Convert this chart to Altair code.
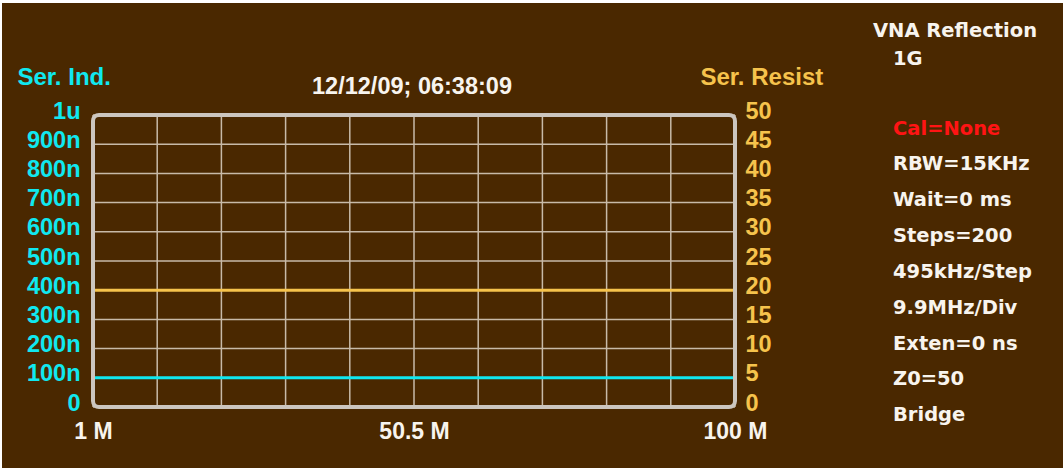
import altair as alt
import pandas as pd

# Sweep: series inductance (nH) and series resistance (ohm) vs frequency (MHz)
freq_mhz = [1.0, 100.0]
ser_ind_nh = [100.0, 100.0]
ser_resist = [20.0, 20.0]

# Division marks: 10 divisions of 9.9 MHz, 100 nH and 5 ohm
freq_div = [1.0, 10.9, 20.8, 30.7, 40.6, 50.5, 60.4, 70.3, 80.2, 90.1, 100.0]
freq_labelled = [1.0, 50.5, 100.0]
ind_div = [0, 100, 200, 300, 400, 500, 600, 700, 800, 900, 1000]
res_div = [0, 5, 10, 15, 20, 25, 30, 35, 40, 45, 50]

timestamp = "12/12/09; 06:38:09"
panel_head = ["VNA Reflection", "1G"]
panel_cal = "Cal=None"
panel_info = ["RBW=15KHz", "Wait=0 ms", "Steps=200", "495kHz/Step",
              "9.9MHz/Div", "Exten=0 ns", "Z0=50", "Bridge"]

BROWN = "#4a2800"
CYAN = "#10e8f0"
ORANGE = "#f6c34c"
WHITE = "#f8f4ee"
RED = "#ff1414"
GRID = "#c8baa8"
FRAME = "#ccc6bf"
FONT = "Liberation Sans"
PANEL_FONT = "DejaVu Sans"

W, H = 642, 292

sweep = pd.DataFrame({"freq": freq_mhz, "ind": ser_ind_nh, "res": ser_resist})
one = pd.DataFrame({"k": [0]})

x_scale = alt.Scale(domain=[1, 100], nice=False, zero=False)
x_axis = alt.Axis(
    values=freq_labelled, labelExpr="datum.value + ' M'", title=None,
    grid=False, ticks=False, domain=False, labelFlush=False, labelOverlap=False,
    labelColor=WHITE, labelFont=FONT, labelFontWeight="bold", labelFontSize=23,
    labelPadding=13, zindex=1,
)
x_enc = alt.X("freq:Q", scale=x_scale, axis=x_axis)

ind_scale = alt.Scale(domain=[0, 1000], nice=False)
res_scale = alt.Scale(domain=[0, 50], nice=False)

label_style = dict(grid=False, ticks=False, domain=False, labelFlush=False,
                   labelOverlap=False, labelFont=FONT, labelFontWeight="bold",
                   labelFontSize=23.5, labelBaseline="middle", labelOffset=-4,
                   titleAngle=0, titleAlign="left", titleBaseline="middle",
                   titleFont=FONT, titleFontWeight="bold", titleFontSize=24,
                   titleY=-38, zindex=1)

ind_axis = alt.Axis(
    values=ind_div, orient="left", title="Ser. Ind.",
    labelExpr="datum.value == 0 ? '0' : (datum.value == 1000 ? '1u' : datum.value + 'n')",
    labelColor=CYAN, titleColor=CYAN, labelPadding=13, titleX=-76, **label_style,
)
res_axis = alt.Axis(
    values=res_div, orient="right", title="Ser. Resist",
    labelColor=ORANGE, titleColor=ORANGE, labelPadding=10, labelAlign="left",
    titleX=-35, **label_style,
)

# page backdrop
backdrop = alt.Chart(one).mark_rect(color=BROWN).encode(
    x=alt.value(-91), x2=alt.value(970), y=alt.value(-112), y2=alt.value(353)
)

# division grid
vgrid = alt.Chart(pd.DataFrame({"freq": freq_div})).mark_rule(
    color=GRID, strokeWidth=1.5
).encode(x=x_enc)
hgrid = alt.Chart(pd.DataFrame({"ind": ind_div})).mark_rule(
    color=GRID, strokeWidth=1.5
).encode(y=alt.Y("ind:Q", scale=ind_scale, axis=None))

ind_line = alt.Chart(sweep).mark_line(color=CYAN, strokeWidth=3).encode(
    x=x_enc, y=alt.Y("ind:Q", scale=ind_scale, axis=ind_axis)
)
res_line = alt.Chart(sweep).mark_line(color=ORANGE, strokeWidth=3).encode(
    x=x_enc, y=alt.Y("res:Q", scale=res_scale, axis=res_axis)
)

frame = alt.Chart(one).mark_rect(
    filled=False, stroke=FRAME, strokeWidth=4, cornerRadius=6
).encode(x=alt.value(0), x2=alt.value(W), y=alt.value(0), y2=alt.value(H))


def label(text, x, y, color=WHITE, font=PANEL_FONT, size=19.5, align="left"):
    return alt.Chart(one).mark_text(
        text=text, color=color, font=font, fontSize=size, fontWeight="bold",
        align=align, baseline="middle",
    ).encode(x=alt.value(x), y=alt.value(y))


texts = [label(timestamp, 319, -28, font=FONT, size=23.5, align="center")]
texts.append(label(panel_head[0], 780, -84))
texts.append(label(panel_head[1], 800, -56))
texts.append(label(panel_cal, 800, 13.5, color=RED))
for i, line in enumerate(panel_info):
    texts.append(label(line, 800, 49 + 35.9 * i))

chart = alt.layer(
    backdrop, vgrid, hgrid, ind_line, res_line, frame, *texts
).resolve_scale(y="independent").properties(
    width=W, height=H,
    padding={"left": 93, "top": 115, "right": 329, "bottom": 61},
    autosize=alt.AutoSizeParams(type="none"),
    background="white",
).configure_view(strokeWidth=0)

chart.save("out.html", embed_options={"renderer": "svg", "actions": False})
